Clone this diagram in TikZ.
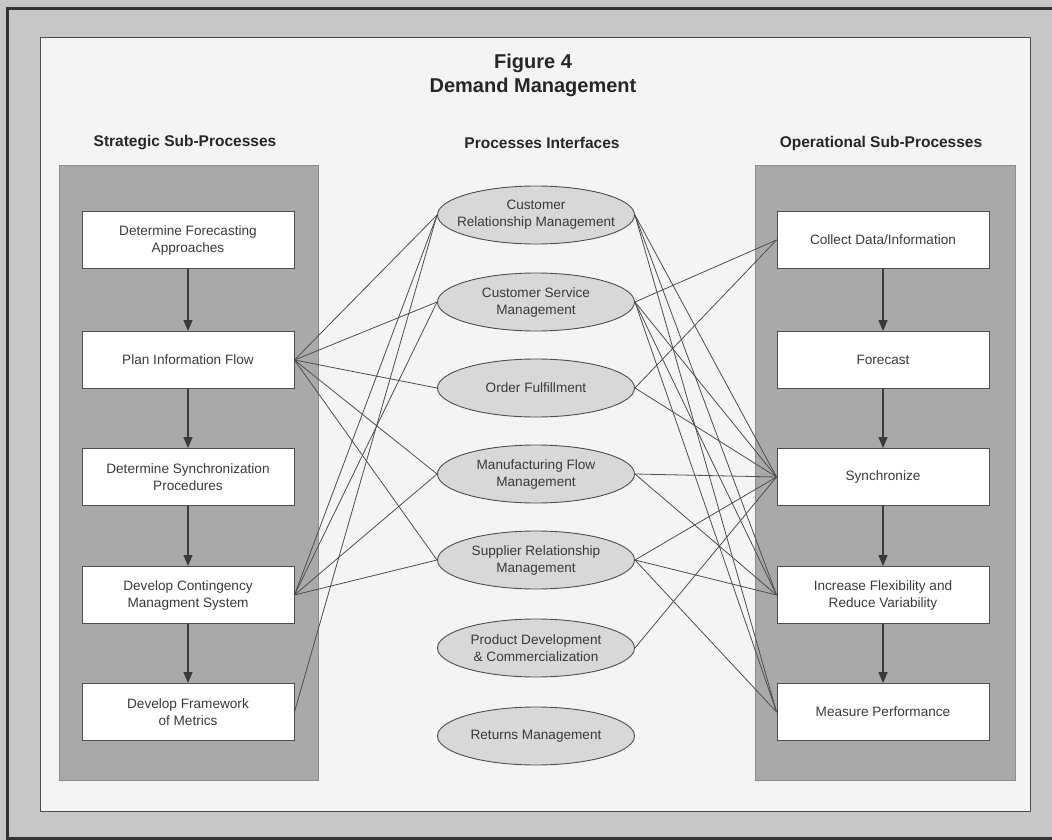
\documentclass[tikz,border=0pt]{standalone}
\usepackage{fontspec}
\setmainfont{Liberation Sans}
\usetikzlibrary{positioning,shapes.geometric,arrows.meta}

\definecolor{framegray}{HTML}{C7C7C7}
\definecolor{sheet}{HTML}{F4F4F4}
\definecolor{panelgray}{HTML}{A9A9A9}
\definecolor{ovalgray}{HTML}{D8D8D8}
\definecolor{inkgray}{HTML}{3A3A3A}
\definecolor{wiregray}{HTML}{4E4E4E}

\begin{document}
\begin{tikzpicture}
    [x=1pt,y=-1pt,
     every node/.style={font=\fontsize{13.6}{17}\selectfont, text=inkgray, align=center, inner sep=0pt},
     subproc/.style={draw=wiregray, fill=white, line width=0.9pt, minimum width=212pt, minimum height=57pt},
     iface/.style={draw=wiregray, fill=ovalgray, ellipse, line width=0.9pt, inner xsep=-14pt,
                   minimum width=197pt, minimum height=58pt},
     heading/.style={font=\fontsize{15.5}{18}\bfseries\selectfont, text=black!85},
     flow/.style={-{Triangle[width=9pt,length=11pt]}, line width=1.2pt, draw=inkgray},
     link/.style={draw=wiregray, line width=0.8pt}]
  \useasboundingbox (0,0) rectangle (1052,840);

  % frame and sheet
  \fill[framegray] (0,0) rectangle (1052,840);
  \draw[line width=3pt, black!80] (1052,9) -- (7,9) -- (7,838) -- (1052,838);
  \filldraw[fill=sheet, draw=black!70, line width=1pt] (40,38) rectangle (1030,811);
  \filldraw[fill=panelgray, draw=black!45, line width=0.8pt] (59,165) rectangle (318,780);
  \filldraw[fill=panelgray, draw=black!45, line width=0.8pt] (755,165) rectangle (1015,780);

  \node[font=\fontsize{20}{24}\bfseries\selectfont, text=black!85] (title) at (533,75) {Figure 4\\Demand Management};
  \node[heading] (hstrat) at (185,143) {Strategic Sub-Processes};
  \node[heading] (hiface) at (542,143) {Processes Interfaces};
  \node[heading] (hoper) at (881,143) {Operational Sub-Processes};

  % strategic sub-processes
  \node[subproc] (s1) at (188,240) {Determine Forecasting\\Approaches};
  \node[subproc] (s2) at (188,360) {Plan Information Flow};
  \node[subproc] (s3) at (188,477) {Determine Synchronization\\Procedures};
  \node[subproc] (s4) at (188,595) {Develop Contingency\\Managment System};
  \node[subproc] (s5) at (188,712) {Develop Framework\\of Metrics};

  % operational sub-processes
  \node[subproc] (o1) at (883,240) {Collect Data/Information};
  \node[subproc] (o2) at (883,360) {Forecast};
  \node[subproc] (o3) at (883,477) {Synchronize};
  \node[subproc] (o4) at (883,595) {Increase Flexibility and\\Reduce Variability};
  \node[subproc] (o5) at (883,712) {Measure Performance};

  % process interfaces
  \node[iface] (crm) at (536,215) {Customer\\Relationship Management};
  \node[iface] (csm) at (536,302) {Customer Service\\Management};
  \node[iface] (ordf) at (536,388) {Order Fulfillment};
  \node[iface] (mfm) at (536,474) {Manufacturing Flow\\Management};
  \node[iface] (srm) at (536,560) {Supplier Relationship\\Management};
  \node[iface] (pdc) at (536,648) {Product Development\\\& Commercialization};
  \node[iface] (rm) at (536,736) {Returns Management};

  \foreach \from/\to in {s1/s2, s2/s3, s3/s4, s4/s5, o1/o2, o2/o3, o3/o4, o4/o5}
    \draw[flow] (\from) -- (\to);

  \foreach \from/\to in {s2/crm, s2/csm, s2/ordf, s2/mfm, s2/srm, s4/crm, s4/csm, s4/mfm, s4/srm, s5/crm}
    \draw[link] (\from.east) -- (\to.west);

  \foreach \from/\to in {crm/o3, crm/o4, crm/o5, csm/o1, csm/o3, csm/o4, csm/o5, ordf/o1, ordf/o3,
                         mfm/o3, mfm/o4, srm/o3, srm/o4, srm/o5, pdc/o3}
    \draw[link] (\from.east) -- (\to.west);
\end{tikzpicture}
\end{document}
